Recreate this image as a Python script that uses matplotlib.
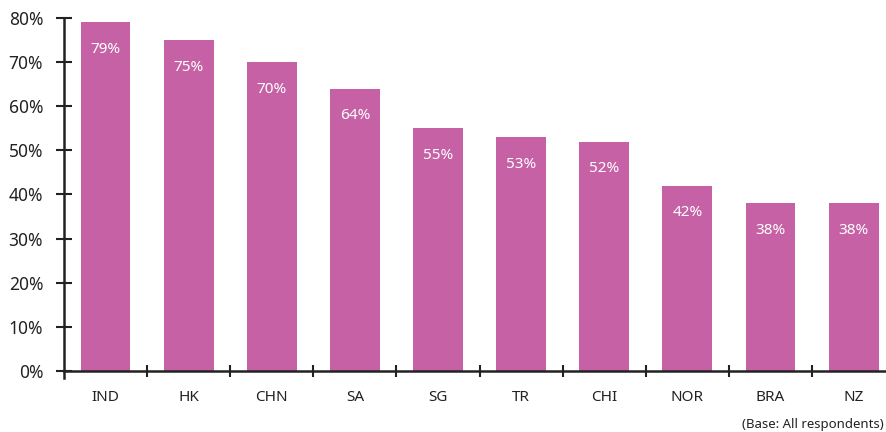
import matplotlib
matplotlib.use("Agg")
import matplotlib.pyplot as plt
import numpy as np

categories = ["IND", "HK", "CHN", "SA", "SG", "TR", "CHI", "NOR", "BRA", "NZ"]
values = [79, 75, 70, 64, 55, 53, 52, 42, 38, 38]
yticks = [0, 10, 20, 30, 40, 50, 60, 70, 80]

plt.rcParams['font.family'] = ['Noto Sans', 'DejaVu Sans']

fig = plt.figure(figsize=(8.86, 4.32), dpi=100)
ax = fig.add_axes([64 / 886, 61 / 432, 1 - 64 / 886, 353 / 432])

x = np.arange(len(categories))
bars = ax.bar(x, values, width=0.6, color="#C661A6", zorder=2)

for xi, v in zip(x, values):
    ax.annotate(f"{v}%", (xi, v), xytext=(0, -19.5), textcoords="offset points",
                ha="center", va="center", color="white", fontsize=11)

ax.set_xlim(-0.5, 9.39)
ax.set_ylim(0, 80)

for s in ["top", "right"]:
    ax.spines[s].set_visible(False)
ax.spines["left"].set_linewidth(1.8)
ax.spines["bottom"].set_linewidth(1.8)
ax.spines["left"].set_color("#222222")
ax.spines["bottom"].set_color("#222222")
ax.spines["left"].set_bounds(-1.6, 80)

ax.set_yticks(yticks)
ax.set_yticklabels([f"{t}%" for t in yticks], fontsize=12.5, color="#222222")
ax.tick_params(axis="y", direction="inout", length=12, width=1.5, pad=9, color="#222222")

# separator ticks between categories, labels in the middle
ax.set_xticks(x[:-1] + 0.5)
ax.set_xticklabels([])
ax.tick_params(axis="x", direction="inout", length=8, width=1.5, color="#222222")
ax.set_xticks(x, minor=True)
ax.set_xticklabels(categories, minor=True, fontsize=11, color="#222222")
ax.tick_params(axis="x", which="minor", length=0, pad=14)

fig.text(0.998, 0.018, "(Base: All respondents)", ha="right", va="center",
         fontsize=9.5, color="#222222")

fig.savefig("out.png", dpi=100)
